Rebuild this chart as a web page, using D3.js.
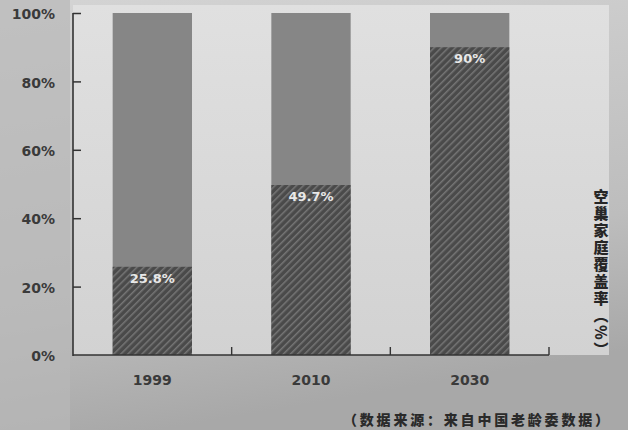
<!DOCTYPE html>
<html>
<head>
<meta charset="utf-8">
<script src="https://cdn.jsdelivr.net/npm/d3@7/dist/d3.min.js"></script>
<style>
  html, body { margin: 0; padding: 0; background: #c8c8c8; overflow: hidden; }
  svg { display: block; }
</style>
</head>
<body>
<svg id="chart" width="628" height="430"></svg>
<script>
// Empty-nest household coverage rate by year
const years = ["1999", "2010", "2030"];
const rates = [25.8, 49.7, 90];
const yTicks = [0, 20, 40, 60, 80, 100];
const axisTitle = "空巢家庭覆盖率（%）";
const sourceNote = "（数据来源：来自中国老龄委数据）";

const W = 628, H = 430;
const plot = { left: 73, right: 549, top: 13, bottom: 355 };

const svg = d3.select("#chart");
const defs = svg.append("defs");

// paper tone, slightly darker towards the bottom
const bg = defs.append("linearGradient").attr("id", "paper")
  .attr("x1", 0).attr("y1", 0).attr("x2", 0.25).attr("y2", 1);
bg.append("stop").attr("offset", "0%").attr("stop-color", "#d4d4d4");
bg.append("stop").attr("offset", "70%").attr("stop-color", "#bdbdbd");
bg.append("stop").attr("offset", "100%").attr("stop-color", "#a8a8a8");

const inner = defs.append("linearGradient").attr("id", "inner")
  .attr("x1", 0).attr("y1", 0).attr("x2", 0).attr("y2", 1);
inner.append("stop").attr("offset", "0%").attr("stop-color", "#e0e0e0");
inner.append("stop").attr("offset", "100%").attr("stop-color", "#d2d2d2");

// diagonal hatch for the covered share
const hatch = defs.append("pattern").attr("id", "hatch")
  .attr("patternUnits", "userSpaceOnUse")
  .attr("width", 5).attr("height", 5)
  .attr("patternTransform", "rotate(45)");
hatch.append("rect").attr("width", 5).attr("height", 5).attr("fill", "#4a4a4a");
hatch.append("rect").attr("x", 0).attr("width", 1.5).attr("height", 5).attr("fill", "#767676");

svg.append("rect").attr("width", W).attr("height", H).attr("fill", "url(#paper)");
svg.append("rect").attr("x", 0).attr("y", 0).attr("width", 70).attr("height", H)
  .attr("fill", "#b8b8b8").attr("opacity", 0.7);
svg.append("rect").attr("x", plot.left).attr("y", plot.top - 8)
  .attr("width", plot.right - plot.left + 60).attr("height", plot.bottom - plot.top + 8)
  .attr("fill", "url(#inner)");

const y = d3.scaleLinear().domain([0, 100]).range([plot.bottom, plot.top]);
const xCat = d3.scaleBand().domain(years).range([plot.left, plot.right]);
const xBar = d3.scaleBand().domain(years).range([plot.left, plot.right])
  .paddingInner(0.5).paddingOuter(0.25);

const g = svg.append("g");

// full-height bars (the uncovered remainder)
g.selectAll("rect.rest").data(years).join("rect")
  .attr("class", "rest")
  .attr("x", d => xBar(d))
  .attr("width", xBar.bandwidth())
  .attr("y", y(100))
  .attr("height", y(0) - y(100))
  .attr("fill", "#868686");

// hatched covered share
g.selectAll("rect.rate").data(rates).join("rect")
  .attr("class", "rate")
  .attr("x", (d, i) => xBar(years[i]))
  .attr("width", xBar.bandwidth())
  .attr("y", d => y(d))
  .attr("height", d => y(0) - y(d))
  .attr("fill", "url(#hatch)");

// value labels
g.selectAll("text.val").data(rates).join("text")
  .attr("class", "val")
  .attr("x", (d, i) => xBar(years[i]) + xBar.bandwidth() / 2)
  .attr("y", d => y(d) + 16)
  .attr("text-anchor", "middle")
  .attr("font-family", "'DejaVu Sans', sans-serif")
  .attr("font-weight", "bold")
  .attr("font-size", 13)
  .attr("fill", "#e8e8e8")
  .text(d => d + "%");

const ink = "#333";

// y axis with inward ticks
const yAxis = d3.axisLeft(y).tickValues(yTicks).tickFormat(d => d + "%")
  .tickSize(-8).tickPadding(18);
const ya = svg.append("g").attr("transform", `translate(${plot.left},0)`).call(yAxis);
ya.select(".domain").remove();
ya.selectAll(".tick line").attr("stroke", ink).attr("stroke-width", 1.5);
ya.selectAll(".tick").filter(d => d === 0).select("line").remove();
ya.selectAll(".tick text")
  .attr("font-family", "'DejaVu Sans', sans-serif")
  .attr("font-weight", "bold").attr("font-size", 14).attr("fill", "#3a3a3a")
  .attr("dy", "0.4em");

// x axis labels
const xAxis = d3.axisBottom(xCat).tickSize(0).tickPadding(20);
const xa = svg.append("g").attr("transform", `translate(0,${plot.bottom})`).call(xAxis);
xa.select(".domain").remove();
xa.selectAll(".tick text")
  .attr("font-family", "'DejaVu Sans', sans-serif")
  .attr("font-weight", "bold").attr("font-size", 14).attr("fill", "#3a3a3a");

// axis frame lines
svg.append("line").attr("x1", plot.left).attr("x2", plot.left)
  .attr("y1", plot.top).attr("y2", plot.bottom + 1)
  .attr("stroke", ink).attr("stroke-width", 1.6);
svg.append("line").attr("x1", plot.left).attr("x2", plot.right)
  .attr("y1", plot.bottom).attr("y2", plot.bottom)
  .attr("stroke", ink).attr("stroke-width", 1.6);

// category dividers on the baseline
const dividers = years.slice(1).map(d => xCat(d)).concat([plot.right]);
svg.selectAll("line.div").data(dividers).join("line")
  .attr("class", "div")
  .attr("x1", d => d).attr("x2", d => d)
  .attr("y1", plot.bottom).attr("y2", plot.bottom - 8)
  .attr("stroke", ink).attr("stroke-width", 1.4);

// vertical axis title
svg.append("text")
  .attr("x", 601).attr("y", 189)
  .attr("font-family", "'Noto Sans CJK SC', sans-serif")
  .attr("font-weight", "900").attr("font-size", 15)
  .attr("letter-spacing", 2)
  .attr("fill", "#262626")
  .style("writing-mode", "vertical-rl")
  .text(axisTitle);

// source note
svg.append("text")
  .attr("x", 343).attr("y", 425)
  .attr("font-family", "'Noto Sans CJK SC', sans-serif")
  .attr("font-weight", "900").attr("font-size", 14)
  .attr("letter-spacing", 2.8)
  .attr("fill", "#2a2a2a")
  .text(sourceNote);
</script>
</body>
</html>
